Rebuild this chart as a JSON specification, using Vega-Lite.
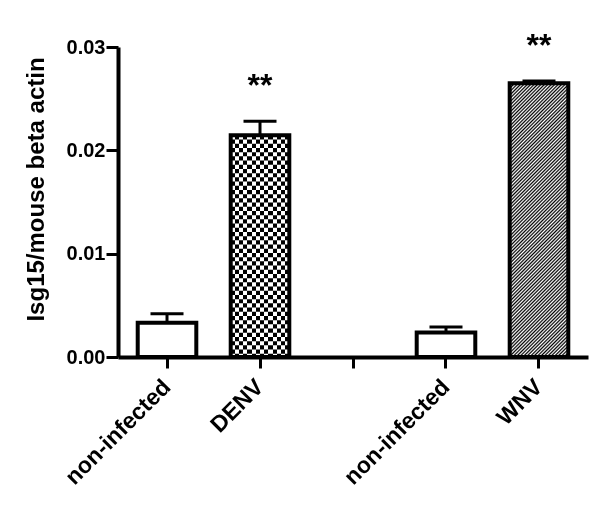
{
  "$schema": "https://vega.github.io/schema/vega-lite/v6.json",
  "width": 470,
  "height": 310,
  "autosize": {"type": "none"},
  "padding": {"left": 118, "top": 47, "right": 12, "bottom": 152},
  "background": "white",
  "data": {"values": [
    {"cat": "ni1", "value": 0.00332, "upper": 0.00419, "pattern": "none", "sig": ""},
    {"cat": "DENV", "value": 0.02145, "upper": 0.02282, "pattern": "checker", "sig": "**"},
    {"cat": "ni2", "value": 0.00237, "upper": 0.0029, "pattern": "none", "sig": ""},
    {"cat": "WNV", "value": 0.0265, "upper": 0.0267, "pattern": "hatch", "sig": "**"}
  ]},
  "encoding": {
    "x": {
      "field": "cat", "type": "nominal", "title": null,
      "scale": {"domain": ["ni1", "DENV", "gap", "ni2", "WNV"], "paddingInner": 0.37, "paddingOuter": 0.212},
      "axis": {"labelExpr": "datum.value == 'DENV' || datum.value == 'WNV' ? datum.value : (datum.value == 'gap' ? '' : 'non-infected')"}
    }
  },
  "layer": [
    {
      "mark": {"type": "rule", "color": "black", "strokeWidth": 3},
      "encoding": {
        "y": {"field": "value", "type": "quantitative", "title": "Isg15/mouse beta actin", "scale": {"domain": [0, 0.03]},
          "axis": {"values": [0, 0.01, 0.02, 0.03], "format": ".2f", "titleY": 142}},
        "y2": {"field": "upper"}
      }
    },
    {
      "mark": {"type": "tick", "color": "black", "size": 33, "thickness": 3, "opacity": 1},
      "encoding": {
        "y": {"field": "upper", "type": "quantitative", "title": "Isg15/mouse beta actin", "scale": {"domain": [0, 0.03]}}
      }
    },
    {
      "transform": [{"filter": "datum.pattern == 'none'"}],
      "mark": {"type": "bar", "fill": "white", "stroke": "black", "strokeWidth": 4},
      "encoding": {
        "y": {"field": "value", "type": "quantitative", "title": "Isg15/mouse beta actin", "scale": {"domain": [0, 0.03]}}
      }
    },
    {
      "transform": [{"filter": "datum.pattern == 'checker'"}],
      "mark": {"type": "rule", "color": "black", "strokeWidth": 58, "strokeDash": [4.2, 4.2], "strokeCap": "butt"},
      "encoding": {
        "y": {"field": "value", "type": "quantitative", "title": "Isg15/mouse beta actin", "scale": {"domain": [0, 0.03]}},
        "y2": {"datum": 0}
      }
    },
    {
      "transform": [{"filter": "datum.pattern == 'checker'"}],
      "mark": {"type": "bar", "blend": "difference", "strokeWidth": 0,
        "fill": {"gradient": "linear", "x1": 0, "y1": 0, "x2": 1, "y2": 0, "stops": [
          {"offset": 0, "color": "#fff"}, {"offset": 0.0714, "color": "#fff"},
          {"offset": 0.0714, "color": "#000"}, {"offset": 0.1429, "color": "#000"},
          {"offset": 0.1429, "color": "#fff"}, {"offset": 0.2143, "color": "#fff"},
          {"offset": 0.2143, "color": "#000"}, {"offset": 0.2857, "color": "#000"},
          {"offset": 0.2857, "color": "#fff"}, {"offset": 0.3571, "color": "#fff"},
          {"offset": 0.3571, "color": "#000"}, {"offset": 0.4286, "color": "#000"},
          {"offset": 0.4286, "color": "#fff"}, {"offset": 0.5, "color": "#fff"},
          {"offset": 0.5, "color": "#000"}, {"offset": 0.5714, "color": "#000"},
          {"offset": 0.5714, "color": "#fff"}, {"offset": 0.6429, "color": "#fff"},
          {"offset": 0.6429, "color": "#000"}, {"offset": 0.7143, "color": "#000"},
          {"offset": 0.7143, "color": "#fff"}, {"offset": 0.7857, "color": "#fff"},
          {"offset": 0.7857, "color": "#000"}, {"offset": 0.8571, "color": "#000"},
          {"offset": 0.8571, "color": "#fff"}, {"offset": 0.9286, "color": "#fff"},
          {"offset": 0.9286, "color": "#000"}, {"offset": 1, "color": "#000"}
        ]}},
      "encoding": {
        "y": {"field": "value", "type": "quantitative", "title": "Isg15/mouse beta actin", "scale": {"domain": [0, 0.03]}}
      }
    },
    {
      "transform": [{"filter": "datum.pattern == 'checker'"}],
      "mark": {"type": "bar", "fill": "white", "fillOpacity": 0, "stroke": "black", "strokeWidth": 4},
      "encoding": {
        "y": {"field": "value", "type": "quantitative", "title": "Isg15/mouse beta actin", "scale": {"domain": [0, 0.03]}}
      }
    },
    {
      "transform": [{"filter": "datum.pattern == 'hatch'"}],
      "mark": {"type": "bar", "stroke": "black", "strokeWidth": 4,
        "fill": {"gradient": "linear", "x1": 0, "y1": 0, "x2": 0.257, "y2": 1.2, "stops": [
          {"offset": 0, "color": "#fff"}, {"offset": 0.005, "color": "#000"}, {"offset": 0.01, "color": "#fff"}, {"offset": 0.015, "color": "#000"},
          {"offset": 0.02, "color": "#fff"}, {"offset": 0.025, "color": "#000"}, {"offset": 0.03, "color": "#fff"}, {"offset": 0.035, "color": "#000"},
          {"offset": 0.04, "color": "#fff"}, {"offset": 0.045, "color": "#000"}, {"offset": 0.05, "color": "#fff"}, {"offset": 0.055, "color": "#000"},
          {"offset": 0.06, "color": "#fff"}, {"offset": 0.065, "color": "#000"}, {"offset": 0.07, "color": "#fff"}, {"offset": 0.075, "color": "#000"},
          {"offset": 0.08, "color": "#fff"}, {"offset": 0.085, "color": "#000"}, {"offset": 0.09, "color": "#fff"}, {"offset": 0.095, "color": "#000"},
          {"offset": 0.1, "color": "#fff"}, {"offset": 0.105, "color": "#000"}, {"offset": 0.11, "color": "#fff"}, {"offset": 0.115, "color": "#000"},
          {"offset": 0.12, "color": "#fff"}, {"offset": 0.125, "color": "#000"}, {"offset": 0.13, "color": "#fff"}, {"offset": 0.135, "color": "#000"},
          {"offset": 0.14, "color": "#fff"}, {"offset": 0.145, "color": "#000"}, {"offset": 0.15, "color": "#fff"}, {"offset": 0.155, "color": "#000"},
          {"offset": 0.16, "color": "#fff"}, {"offset": 0.165, "color": "#000"}, {"offset": 0.17, "color": "#fff"}, {"offset": 0.175, "color": "#000"},
          {"offset": 0.18, "color": "#fff"}, {"offset": 0.185, "color": "#000"}, {"offset": 0.19, "color": "#fff"}, {"offset": 0.195, "color": "#000"},
          {"offset": 0.2, "color": "#fff"}, {"offset": 0.205, "color": "#000"}, {"offset": 0.21, "color": "#fff"}, {"offset": 0.215, "color": "#000"},
          {"offset": 0.22, "color": "#fff"}, {"offset": 0.225, "color": "#000"}, {"offset": 0.23, "color": "#fff"}, {"offset": 0.235, "color": "#000"},
          {"offset": 0.24, "color": "#fff"}, {"offset": 0.245, "color": "#000"}, {"offset": 0.25, "color": "#fff"}, {"offset": 0.255, "color": "#000"},
          {"offset": 0.26, "color": "#fff"}, {"offset": 0.265, "color": "#000"}, {"offset": 0.27, "color": "#fff"}, {"offset": 0.275, "color": "#000"},
          {"offset": 0.28, "color": "#fff"}, {"offset": 0.285, "color": "#000"}, {"offset": 0.29, "color": "#fff"}, {"offset": 0.295, "color": "#000"},
          {"offset": 0.3, "color": "#fff"}, {"offset": 0.305, "color": "#000"}, {"offset": 0.31, "color": "#fff"}, {"offset": 0.315, "color": "#000"},
          {"offset": 0.32, "color": "#fff"}, {"offset": 0.325, "color": "#000"}, {"offset": 0.33, "color": "#fff"}, {"offset": 0.335, "color": "#000"},
          {"offset": 0.34, "color": "#fff"}, {"offset": 0.345, "color": "#000"}, {"offset": 0.35, "color": "#fff"}, {"offset": 0.355, "color": "#000"},
          {"offset": 0.36, "color": "#fff"}, {"offset": 0.365, "color": "#000"}, {"offset": 0.37, "color": "#fff"}, {"offset": 0.375, "color": "#000"},
          {"offset": 0.38, "color": "#fff"}, {"offset": 0.385, "color": "#000"}, {"offset": 0.39, "color": "#fff"}, {"offset": 0.395, "color": "#000"},
          {"offset": 0.4, "color": "#fff"}, {"offset": 0.405, "color": "#000"}, {"offset": 0.41, "color": "#fff"}, {"offset": 0.415, "color": "#000"},
          {"offset": 0.42, "color": "#fff"}, {"offset": 0.425, "color": "#000"}, {"offset": 0.43, "color": "#fff"}, {"offset": 0.435, "color": "#000"},
          {"offset": 0.44, "color": "#fff"}, {"offset": 0.445, "color": "#000"}, {"offset": 0.45, "color": "#fff"}, {"offset": 0.455, "color": "#000"},
          {"offset": 0.46, "color": "#fff"}, {"offset": 0.465, "color": "#000"}, {"offset": 0.47, "color": "#fff"}, {"offset": 0.475, "color": "#000"},
          {"offset": 0.48, "color": "#fff"}, {"offset": 0.485, "color": "#000"}, {"offset": 0.49, "color": "#fff"}, {"offset": 0.495, "color": "#000"},
          {"offset": 0.5, "color": "#fff"}, {"offset": 0.505, "color": "#000"}, {"offset": 0.51, "color": "#fff"}, {"offset": 0.515, "color": "#000"},
          {"offset": 0.52, "color": "#fff"}, {"offset": 0.525, "color": "#000"}, {"offset": 0.53, "color": "#fff"}, {"offset": 0.535, "color": "#000"},
          {"offset": 0.54, "color": "#fff"}, {"offset": 0.545, "color": "#000"}, {"offset": 0.55, "color": "#fff"}, {"offset": 0.555, "color": "#000"},
          {"offset": 0.56, "color": "#fff"}, {"offset": 0.565, "color": "#000"}, {"offset": 0.57, "color": "#fff"}, {"offset": 0.575, "color": "#000"},
          {"offset": 0.58, "color": "#fff"}, {"offset": 0.585, "color": "#000"}, {"offset": 0.59, "color": "#fff"}, {"offset": 0.595, "color": "#000"},
          {"offset": 0.6, "color": "#fff"}, {"offset": 0.605, "color": "#000"}, {"offset": 0.61, "color": "#fff"}, {"offset": 0.615, "color": "#000"},
          {"offset": 0.62, "color": "#fff"}, {"offset": 0.625, "color": "#000"}, {"offset": 0.63, "color": "#fff"}, {"offset": 0.635, "color": "#000"},
          {"offset": 0.64, "color": "#fff"}, {"offset": 0.645, "color": "#000"}, {"offset": 0.65, "color": "#fff"}, {"offset": 0.655, "color": "#000"},
          {"offset": 0.66, "color": "#fff"}, {"offset": 0.665, "color": "#000"}, {"offset": 0.67, "color": "#fff"}, {"offset": 0.675, "color": "#000"},
          {"offset": 0.68, "color": "#fff"}, {"offset": 0.685, "color": "#000"}, {"offset": 0.69, "color": "#fff"}, {"offset": 0.695, "color": "#000"},
          {"offset": 0.7, "color": "#fff"}, {"offset": 0.705, "color": "#000"}, {"offset": 0.71, "color": "#fff"}, {"offset": 0.715, "color": "#000"},
          {"offset": 0.72, "color": "#fff"}, {"offset": 0.725, "color": "#000"}, {"offset": 0.73, "color": "#fff"}, {"offset": 0.735, "color": "#000"},
          {"offset": 0.74, "color": "#fff"}, {"offset": 0.745, "color": "#000"}, {"offset": 0.75, "color": "#fff"}, {"offset": 0.755, "color": "#000"},
          {"offset": 0.76, "color": "#fff"}, {"offset": 0.765, "color": "#000"}, {"offset": 0.77, "color": "#fff"}, {"offset": 0.775, "color": "#000"},
          {"offset": 0.78, "color": "#fff"}, {"offset": 0.785, "color": "#000"}, {"offset": 0.79, "color": "#fff"}, {"offset": 0.795, "color": "#000"},
          {"offset": 0.8, "color": "#fff"}, {"offset": 0.805, "color": "#000"}, {"offset": 0.81, "color": "#fff"}, {"offset": 0.815, "color": "#000"},
          {"offset": 0.82, "color": "#fff"}, {"offset": 0.825, "color": "#000"}, {"offset": 0.83, "color": "#fff"}, {"offset": 0.835, "color": "#000"},
          {"offset": 0.84, "color": "#fff"}, {"offset": 0.845, "color": "#000"}, {"offset": 0.85, "color": "#fff"}, {"offset": 0.855, "color": "#000"},
          {"offset": 0.86, "color": "#fff"}, {"offset": 0.865, "color": "#000"}, {"offset": 0.87, "color": "#fff"}, {"offset": 0.875, "color": "#000"},
          {"offset": 0.88, "color": "#fff"}, {"offset": 0.885, "color": "#000"}, {"offset": 0.89, "color": "#fff"}, {"offset": 0.895, "color": "#000"},
          {"offset": 0.9, "color": "#fff"}, {"offset": 0.905, "color": "#000"}, {"offset": 0.91, "color": "#fff"}, {"offset": 0.915, "color": "#000"},
          {"offset": 0.92, "color": "#fff"}, {"offset": 0.925, "color": "#000"}, {"offset": 0.93, "color": "#fff"}, {"offset": 0.935, "color": "#000"},
          {"offset": 0.94, "color": "#fff"}, {"offset": 0.945, "color": "#000"}, {"offset": 0.95, "color": "#fff"}, {"offset": 0.955, "color": "#000"},
          {"offset": 0.96, "color": "#fff"}, {"offset": 0.965, "color": "#000"}, {"offset": 0.97, "color": "#fff"}, {"offset": 0.975, "color": "#000"},
          {"offset": 0.98, "color": "#fff"}, {"offset": 0.985, "color": "#000"}, {"offset": 0.99, "color": "#fff"}, {"offset": 0.995, "color": "#000"},
          {"offset": 1, "color": "#fff"}
        ]}},
      "encoding": {
        "y": {"field": "value", "type": "quantitative", "title": "Isg15/mouse beta actin", "scale": {"domain": [0, 0.03]}}
      }
    },
    {
      "mark": {"type": "text", "font": "Liberation Sans", "fontWeight": "bold", "fontSize": 32, "baseline": "alphabetic", "dy": -25, "color": "black"},
      "encoding": {
        "y": {"field": "upper", "type": "quantitative", "title": "Isg15/mouse beta actin", "scale": {"domain": [0, 0.03]}},
        "text": {"field": "sig"}
      }
    }
  ],
  "config": {
    "view": {"stroke": null},
    "axis": {
      "grid": false, "domainColor": "black", "domainWidth": 4, "tickColor": "black", "tickWidth": 3,
      "labelFont": "Liberation Sans", "labelFontWeight": "bold", "labelColor": "black",
      "titleFont": "Liberation Sans", "titleFontWeight": "bold", "titleColor": "black"
    },
    "axisY": {"tickSize": 12, "labelFontSize": 20, "labelPadding": 1, "titleFontSize": 24, "titlePadding": 18},
    "axisX": {"tickSize": 11, "labelFontSize": 23, "labelAngle": -45, "labelBaseline": "middle", "labelPadding": 15}
  }
}
